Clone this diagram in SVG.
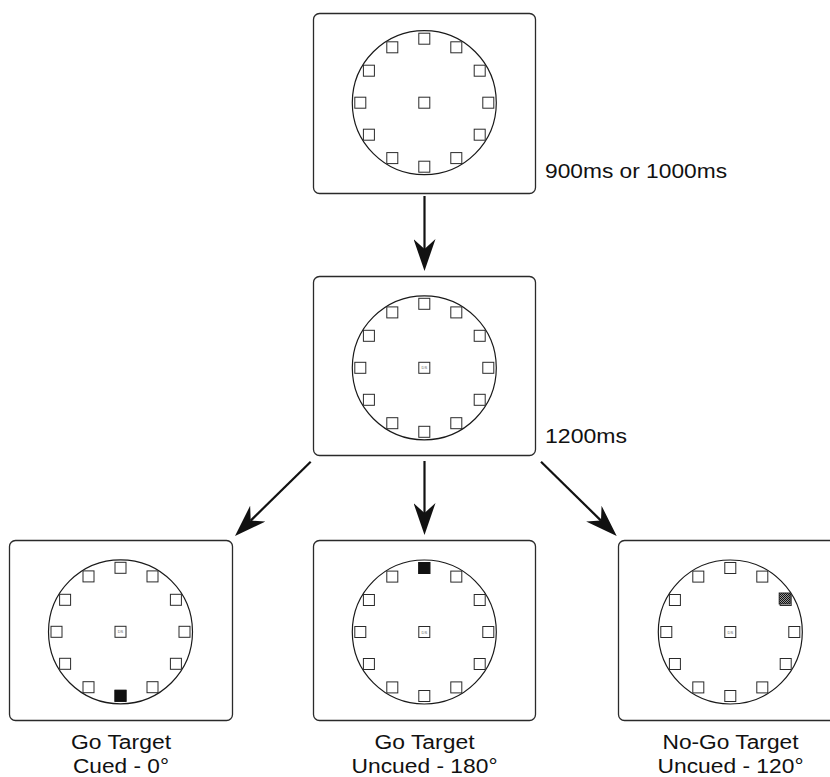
<svg xmlns="http://www.w3.org/2000/svg" xmlns:xlink="http://www.w3.org/1999/xlink" width="830" height="777" viewBox="0 0 830 777">
<style>
.frame{fill:#fff;stroke:#2a2a2a;stroke-width:1.3}
.ring{fill:none;stroke:#1a1a1a;stroke-width:1.2}
.sq{fill:#fff;stroke:#2a2a2a;stroke-width:1}
.blk{fill:#111;stroke:#111;stroke-width:1}
.chk{fill:url(#checker);stroke:#222;stroke-width:1}
.ds{font-family:"Liberation Sans",Arial,sans-serif;font-size:4px;fill:#666;text-anchor:middle}
.lbl{font-family:"Liberation Sans",Arial,Helvetica,sans-serif;font-size:19.5px;fill:#111}
.cap{font-family:"Liberation Sans",Arial,Helvetica,sans-serif;font-size:19.5px;fill:#111;text-anchor:middle}
.conn{stroke:#111;stroke-width:2.2;fill:none}
</style>
<defs>
<pattern id="checker" width="2" height="2" patternUnits="userSpaceOnUse">
<rect width="2" height="2" fill="#999"/>
<rect width="1" height="1" fill="#111"/>
<rect x="1" y="1" width="1" height="1" fill="#111"/>
</pattern>
<marker id="head" markerUnits="userSpaceOnUse" viewBox="-10 -11 32 22" refX="0" refY="0" markerWidth="32" markerHeight="22" orient="auto">
<path d="M-10,-11 L22,0 L-10,11 L0,0 Z" fill="#111"/>
</marker>
<g id="dial">
<circle class="ring" cx="0" cy="0" r="72"/>
<rect class="sq" x="-5.5" y="-69.5" width="11" height="11"/>
<rect class="sq" x="26.5" y="-60.9" width="11" height="11"/>
<rect class="sq" x="49.9" y="-37.5" width="11" height="11"/>
<rect class="sq" x="58.5" y="-5.5" width="11" height="11"/>
<rect class="sq" x="49.9" y="26.5" width="11" height="11"/>
<rect class="sq" x="26.5" y="49.9" width="11" height="11"/>
<rect class="sq" x="-5.5" y="58.5" width="11" height="11"/>
<rect class="sq" x="-37.5" y="49.9" width="11" height="11"/>
<rect class="sq" x="-60.9" y="26.5" width="11" height="11"/>
<rect class="sq" x="-69.5" y="-5.5" width="11" height="11"/>
<rect class="sq" x="-60.9" y="-37.5" width="11" height="11"/>
<rect class="sq" x="-37.5" y="-60.9" width="11" height="11"/>
</g>
</defs>
<rect width="830" height="777" fill="#fff"/>

<g id="fixation">
<rect class="frame" x="313.5" y="13.5" width="222" height="180" rx="6"/>
<use xlink:href="#dial" href="#dial" transform="translate(424.3,102.7)"/>
<rect class="sq" x="418.8" y="97.2" width="11" height="11"/>
<text class="lbl" x="545" y="178" textLength="182" lengthAdjust="spacingAndGlyphs">900ms or 1000ms</text>
</g>

<g id="cue">
<rect class="frame" x="313.5" y="276.5" width="222" height="179" rx="6"/>
<use xlink:href="#dial" href="#dial" transform="translate(424.3,367.8)"/>
<rect class="sq" x="418.8" y="362.3" width="11" height="11"/>
<text class="ds" x="424.3" y="369.3">DS</text>
<text class="lbl" x="545" y="442.5" textLength="82" lengthAdjust="spacingAndGlyphs">1200ms</text>
</g>

<g id="go-cued">
<rect class="frame" x="9.5" y="540.5" width="223" height="180" rx="6"/>
<use xlink:href="#dial" href="#dial" transform="translate(120.5,631.8)"/>
<rect class="sq" x="115" y="626.3" width="11" height="11"/>
<text class="ds" x="120.5" y="633.3">DS</text>
<rect class="blk" x="115" y="690.3" width="11" height="11"/>
<text class="cap" x="121" y="749" textLength="100" lengthAdjust="spacingAndGlyphs">Go Target</text>
<text class="cap" x="121" y="773" textLength="96" lengthAdjust="spacingAndGlyphs">Cued - 0°</text>
</g>

<g id="go-uncued">
<rect class="frame" x="313.5" y="540.5" width="222" height="180" rx="6"/>
<use xlink:href="#dial" href="#dial" transform="translate(424.3,632)"/>
<rect class="sq" x="418.8" y="626.5" width="11" height="11"/>
<text class="ds" x="424.3" y="633.5">DS</text>
<rect class="blk" x="418.8" y="562.5" width="11" height="11"/>
<text class="cap" x="424.5" y="749" textLength="100" lengthAdjust="spacingAndGlyphs">Go Target</text>
<text class="cap" x="424.5" y="773" textLength="146" lengthAdjust="spacingAndGlyphs">Uncued - 180°</text>
</g>

<g id="nogo-uncued">
<rect class="frame" x="618.5" y="540.5" width="223" height="180" rx="6"/>
<use xlink:href="#dial" href="#dial" transform="translate(730.3,632)"/>
<rect class="sq" x="724.8" y="626.5" width="11" height="11"/>
<text class="ds" x="730.3" y="633.5">DS</text>
<rect class="chk" x="779.2" y="593" width="11" height="11"/>
<text class="cap" x="730.5" y="749" textLength="136" lengthAdjust="spacingAndGlyphs">No-Go Target</text>
<text class="cap" x="730.5" y="773" textLength="146" lengthAdjust="spacingAndGlyphs">Uncued - 120°</text>
</g>

<g id="connectors">
<line class="conn" x1="424.5" y1="196" x2="424.5" y2="249" marker-end="url(#head)"/>
<line class="conn" x1="424.5" y1="461" x2="424.5" y2="513" marker-end="url(#head)"/>
<line class="conn" x1="310.7" y1="461.7" x2="250.7" y2="520.6" marker-end="url(#head)"/>
<line class="conn" x1="541" y1="461.7" x2="601" y2="520.6" marker-end="url(#head)"/>
</g>
</svg>
